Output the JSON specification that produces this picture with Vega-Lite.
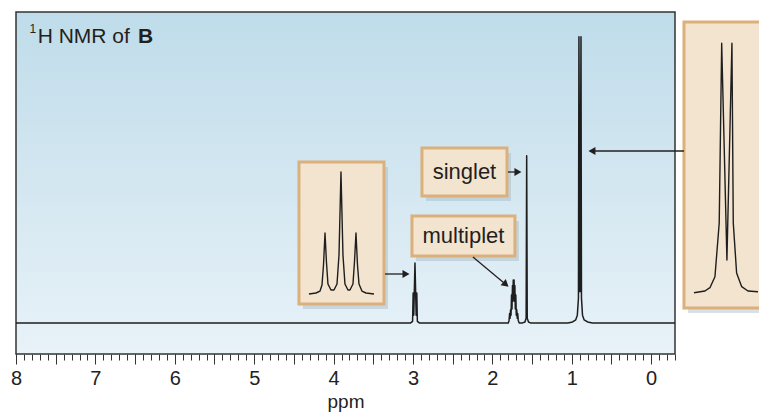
{
  "$schema": "https://vega.github.io/schema/vega-lite/v6.json",
  "width": 659,
  "height": 342,
  "autosize": {"type": "none"},
  "padding": {"left": 16, "top": 12, "right": 84, "bottom": 59},
  "background": "white",
  "config": {
    "view": {"stroke": null},
    "axis": {"grid": false, "labelFont": "Liberation Sans", "titleFont": "Liberation Sans"},
    "text": {"font": "Liberation Sans"}
  },
  "datasets": {
    "bg": [{"x": 8, "x2": -0.3, "y": -1, "y2": 10}],
    "spectrum": [
      {"ppm": 8, "i": 0}, {"ppm": 3.03, "i": 0}, {"ppm": 3.005, "i": 0.05}, {"ppm": 2.998, "i": 0.96}, {"ppm": 2.99, "i": 0.25},
      {"ppm": 2.975, "i": 1.93}, {"ppm": 2.96, "i": 0.25}, {"ppm": 2.952, "i": 0.96}, {"ppm": 2.945, "i": 0.05}, {"ppm": 2.92, "i": 0},
      {"ppm": 1.8, "i": 0}, {"ppm": 1.79, "i": 0.08}, {"ppm": 1.783, "i": 0.3}, {"ppm": 1.777, "i": 0.15}, {"ppm": 1.771, "i": 0.42},
      {"ppm": 1.765, "i": 0.25}, {"ppm": 1.759, "i": 0.9}, {"ppm": 1.753, "i": 0.45}, {"ppm": 1.747, "i": 1.2}, {"ppm": 1.742, "i": 0.7},
      {"ppm": 1.737, "i": 1.38}, {"ppm": 1.732, "i": 0.8}, {"ppm": 1.727, "i": 1.38}, {"ppm": 1.722, "i": 0.7}, {"ppm": 1.717, "i": 1.2},
      {"ppm": 1.711, "i": 0.45}, {"ppm": 1.705, "i": 0.9}, {"ppm": 1.699, "i": 0.25}, {"ppm": 1.693, "i": 0.42}, {"ppm": 1.687, "i": 0.15},
      {"ppm": 1.681, "i": 0.3}, {"ppm": 1.674, "i": 0.08}, {"ppm": 1.662, "i": 0},
      {"ppm": 1.62, "i": 0}, {"ppm": 1.59, "i": 0.03}, {"ppm": 1.575, "i": 0.15}, {"ppm": 1.568, "i": 5.38}, {"ppm": 1.561, "i": 0.15},
      {"ppm": 1.545, "i": 0.03}, {"ppm": 1.52, "i": 0},
      {"ppm": 1.05, "i": 0}, {"ppm": 0.99, "i": 0.03}, {"ppm": 0.95, "i": 0.1}, {"ppm": 0.93, "i": 0.25}, {"ppm": 0.916, "i": 0.8},
      {"ppm": 0.91, "i": 9.2}, {"ppm": 0.897, "i": 1.0}, {"ppm": 0.884, "i": 9.2}, {"ppm": 0.878, "i": 0.8}, {"ppm": 0.865, "i": 0.25},
      {"ppm": 0.845, "i": 0.1}, {"ppm": 0.8, "i": 0.03}, {"ppm": 0.74, "i": 0}, {"ppm": -0.3, "i": 0}
    ],
    "boxes": [
      {"name": "triplet", "x": 4.436, "x2": 3.365, "y": 0.608, "y2": 5.176},
      {"name": "singlet", "x": 2.887, "x2": 1.816, "y": 4.082, "y2": 5.626},
      {"name": "multiplet", "x": 3.013, "x2": 1.716, "y": 2.152, "y2": 3.439},
      {"name": "doublet", "x": -0.413, "x2": -1.5, "y": 0.48, "y2": 9.679}
    ],
    "insets": [
      {"s": "tri", "ppm": 4.31, "i": 0.93}, {"s": "tri", "ppm": 4.222, "i": 0.962}, {"s": "tri", "ppm": 4.171, "i": 1.026},
      {"s": "tri", "ppm": 4.146, "i": 1.219}, {"s": "tri", "ppm": 4.127, "i": 1.863}, {"s": "tri", "ppm": 4.108, "i": 2.892},
      {"s": "tri", "ppm": 4.09, "i": 1.959}, {"s": "tri", "ppm": 4.071, "i": 1.252}, {"s": "tri", "ppm": 4.033, "i": 1.059},
      {"s": "tri", "ppm": 3.995, "i": 1.059}, {"s": "tri", "ppm": 3.957, "i": 1.252}, {"s": "tri", "ppm": 3.932, "i": 2.184},
      {"s": "tri", "ppm": 3.907, "i": 4.854}, {"s": "tri", "ppm": 3.882, "i": 2.184}, {"s": "tri", "ppm": 3.857, "i": 1.252},
      {"s": "tri", "ppm": 3.819, "i": 1.059}, {"s": "tri", "ppm": 3.794, "i": 1.059}, {"s": "tri", "ppm": 3.756, "i": 1.252},
      {"s": "tri", "ppm": 3.737, "i": 1.959}, {"s": "tri", "ppm": 3.718, "i": 2.892}, {"s": "tri", "ppm": 3.699, "i": 1.863},
      {"s": "tri", "ppm": 3.68, "i": 1.252}, {"s": "tri", "ppm": 3.643, "i": 1.026}, {"s": "tri", "ppm": 3.592, "i": 0.962},
      {"s": "tri", "ppm": 3.491, "i": 0.93},
      {"s": "dbl", "ppm": -0.539, "i": 0.972}, {"s": "dbl", "ppm": -0.677, "i": 1.026}, {"s": "dbl", "ppm": -0.74, "i": 1.133},
      {"s": "dbl", "ppm": -0.803, "i": 1.486}, {"s": "dbl", "ppm": -0.857, "i": 3.214}, {"s": "dbl", "ppm": -0.888, "i": 8.994},
      {"s": "dbl", "ppm": -0.954, "i": 2.024}, {"s": "dbl", "ppm": -1.017, "i": 8.994}, {"s": "dbl", "ppm": -1.034, "i": 3.214},
      {"s": "dbl", "ppm": -1.076, "i": 1.605}, {"s": "dbl", "ppm": -1.14, "i": 1.165}, {"s": "dbl", "ppm": -1.219, "i": 1.026},
      {"s": "dbl", "ppm": -1.345, "i": 1.004}
    ],
    "labels": [
      {"text": "singlet", "x": 2.352, "y": 4.854},
      {"text": "multiplet", "x": 2.364, "y": 2.795}
    ],
    "arrows": [
      {"name": "triplet", "x": 3.353, "y": 1.573, "hx": 3.088, "hy": 1.573},
      {"name": "singlet", "x": 1.804, "y": 4.854, "hx": 1.678, "hy": 4.854},
      {"name": "multiplet", "x": 2.245, "y": 2.12, "hx": 1.83, "hy": 1.239},
      {"name": "doublet", "x": -0.413, "y": 5.529, "hx": 0.746, "hy": 5.529}
    ],
    "title": [{"t0": "1", "x0": 7.83, "y0": 9.315, "t1": "H NMR of", "x1": 7.727, "t2": "B", "x2": 6.464, "y": 8.994}]
  },
  "layer": [
    {
      "data": {"name": "bg"},
      "mark": {
        "type": "rect",
        "stroke": "#333333",
        "strokeWidth": 1.5,
        "color": {"gradient": "linear", "x1": 0, "y1": 0, "x2": 0, "y2": 1,
          "stops": [{"offset": 0, "color": "#bfdcea"}, {"offset": 1, "color": "#e8f2f8"}]}
      },
      "encoding": {
        "x": {"field": "x", "type": "quantitative", "scale": {"domain": [8, -0.3], "nice": false, "zero": false},
          "axis": {"orient": "bottom", "values": [8, 7.9, 7.8, 7.7, 7.6, 7.5, 7.4, 7.3, 7.2, 7.1, 7, 6.9, 6.8, 6.7, 6.6, 6.5, 6.4, 6.3, 6.2, 6.1, 6, 5.9, 5.8, 5.7, 5.6, 5.5, 5.4, 5.3, 5.2, 5.1, 5, 4.9, 4.8, 4.7, 4.6, 4.5, 4.4, 4.3, 4.2, 4.1, 4, 3.9, 3.8, 3.7, 3.6, 3.5, 3.4, 3.3, 3.2, 3.1, 3, 2.9, 2.8, 2.7, 2.6, 2.5, 2.4, 2.3, 2.2, 2.1, 2, 1.9, 1.8, 1.7, 1.6, 1.5, 1.4, 1.3, 1.2, 1.1, 1, 0.9, 0.8, 0.7, 0.6, 0.5, 0.4, 0.3, 0.2, 0.1, 0, -0.1, -0.2, -0.3],
            "labels": false, "title": null, "domain": false, "tickSize": 6, "tickColor": "#333333", "tickWidth": 1}},
        "x2": {"field": "x2"},
        "y": {"field": "y", "type": "quantitative", "scale": {"domain": [-1, 10], "nice": false, "zero": false}, "axis": null},
        "y2": {"field": "y2"}
      }
    },
    {
      "data": {"name": "spectrum"},
      "mark": {"type": "line", "color": "#1e1e1e", "strokeWidth": 1.5, "strokeJoin": "round"},
      "encoding": {
        "x": {"field": "ppm", "type": "quantitative",
          "axis": {"orient": "bottom", "values": [8, 7.5, 7, 6.5, 6, 5.5, 5, 4.5, 4, 3.5, 3, 2.5, 2, 1.5, 1, 0.5, 0],
            "format": ".1f",
            "labelExpr": "datum.value % 1 == 0 ? format(datum.value, 'd') : ''", "labelFontSize": 20, "labelColor": "#222222",
            "labelPadding": 4, "labelFlush": false, "labelOverlap": false,
            "title": "ppm", "titleFontSize": 19, "titleFontWeight": "normal", "titleColor": "#222222", "titlePadding": 4,
            "domain": false, "tickSize": 10, "tickColor": "#333333", "tickWidth": 1}},
        "y": {"field": "i", "type": "quantitative", "axis": null}
      }
    },
    {
      "data": {"name": "boxes"},
      "mark": {"type": "rect", "color": "#94a9b8", "opacity": 0.35, "xOffset": 4, "x2Offset": 4, "yOffset": 5, "y2Offset": 5},
      "encoding": {
        "x": {"field": "x", "type": "quantitative", "axis": null},
        "x2": {"field": "x2"},
        "y": {"field": "y", "type": "quantitative", "axis": null},
        "y2": {"field": "y2"}
      }
    },
    {
      "data": {"name": "boxes"},
      "mark": {"type": "rect", "fill": "#f3e4d0", "stroke": "#dcb07a", "strokeWidth": 3},
      "encoding": {
        "x": {"field": "x", "type": "quantitative", "axis": null},
        "x2": {"field": "x2"},
        "y": {"field": "y", "type": "quantitative", "axis": null},
        "y2": {"field": "y2"}
      }
    },
    {
      "data": {"name": "insets"},
      "mark": {"type": "line", "color": "#1e1e1e", "strokeWidth": 1.4, "strokeJoin": "round"},
      "encoding": {
        "x": {"field": "ppm", "type": "quantitative", "axis": null},
        "y": {"field": "i", "type": "quantitative", "axis": null},
        "detail": {"field": "s"}
      }
    },
    {
      "data": {"name": "labels"},
      "mark": {"type": "text", "fontSize": 22, "color": "#231f20", "align": "center", "baseline": "middle"},
      "encoding": {
        "x": {"field": "x", "type": "quantitative", "axis": null},
        "y": {"field": "y", "type": "quantitative", "axis": null},
        "text": {"field": "text"}
      }
    },
    {
      "data": {"name": "arrows"},
      "mark": {"type": "rule", "color": "#231f20", "strokeWidth": 1.3},
      "encoding": {
        "x": {"field": "x", "type": "quantitative", "axis": null},
        "y": {"field": "y", "type": "quantitative", "axis": null},
        "x2": {"field": "hx"},
        "y2": {"field": "hy"}
      }
    },
    {
      "data": {"name": "arrows"},
      "transform": [{"filter": "datum.name == 'triplet' || datum.name == 'singlet'"}],
      "mark": {"type": "point", "shape": "triangle-right", "filled": true, "color": "#231f20", "size": 65, "opacity": 1},
      "encoding": {
        "x": {"field": "hx", "type": "quantitative", "axis": null},
        "y": {"field": "hy", "type": "quantitative", "axis": null}
      }
    },
    {
      "data": {"name": "arrows"},
      "transform": [{"filter": "datum.name == 'doublet'"}],
      "mark": {"type": "point", "shape": "triangle-left", "filled": true, "color": "#231f20", "size": 65, "opacity": 1},
      "encoding": {
        "x": {"field": "hx", "type": "quantitative", "axis": null},
        "y": {"field": "hy", "type": "quantitative", "axis": null}
      }
    },
    {
      "data": {"name": "arrows"},
      "transform": [{"filter": "datum.name == 'multiplet'"}],
      "mark": {"type": "point", "shape": "triangle-right", "angle": 40, "filled": true, "color": "#231f20", "size": 65, "opacity": 1},
      "encoding": {
        "x": {"field": "hx", "type": "quantitative", "axis": null},
        "y": {"field": "hy", "type": "quantitative", "axis": null}
      }
    },
    {
      "data": {"name": "title"},
      "mark": {"type": "text", "fontSize": 12, "color": "#231f20", "align": "left", "baseline": "alphabetic"},
      "encoding": {
        "x": {"field": "x0", "type": "quantitative", "axis": null},
        "y": {"field": "y0", "type": "quantitative", "axis": null},
        "text": {"field": "t0"}
      }
    },
    {
      "data": {"name": "title"},
      "mark": {"type": "text", "fontSize": 21, "color": "#231f20", "align": "left", "baseline": "alphabetic"},
      "encoding": {
        "x": {"field": "x1", "type": "quantitative", "axis": null},
        "y": {"field": "y", "type": "quantitative", "axis": null},
        "text": {"field": "t1"}
      }
    },
    {
      "data": {"name": "title"},
      "mark": {"type": "text", "fontSize": 21, "fontWeight": "bold", "color": "#231f20", "align": "left", "baseline": "alphabetic"},
      "encoding": {
        "x": {"field": "x2", "type": "quantitative", "axis": null},
        "y": {"field": "y", "type": "quantitative", "axis": null},
        "text": {"field": "t2"}
      }
    }
  ],
  "resolve": {"axis": {"x": "independent", "y": "independent"}}
}
